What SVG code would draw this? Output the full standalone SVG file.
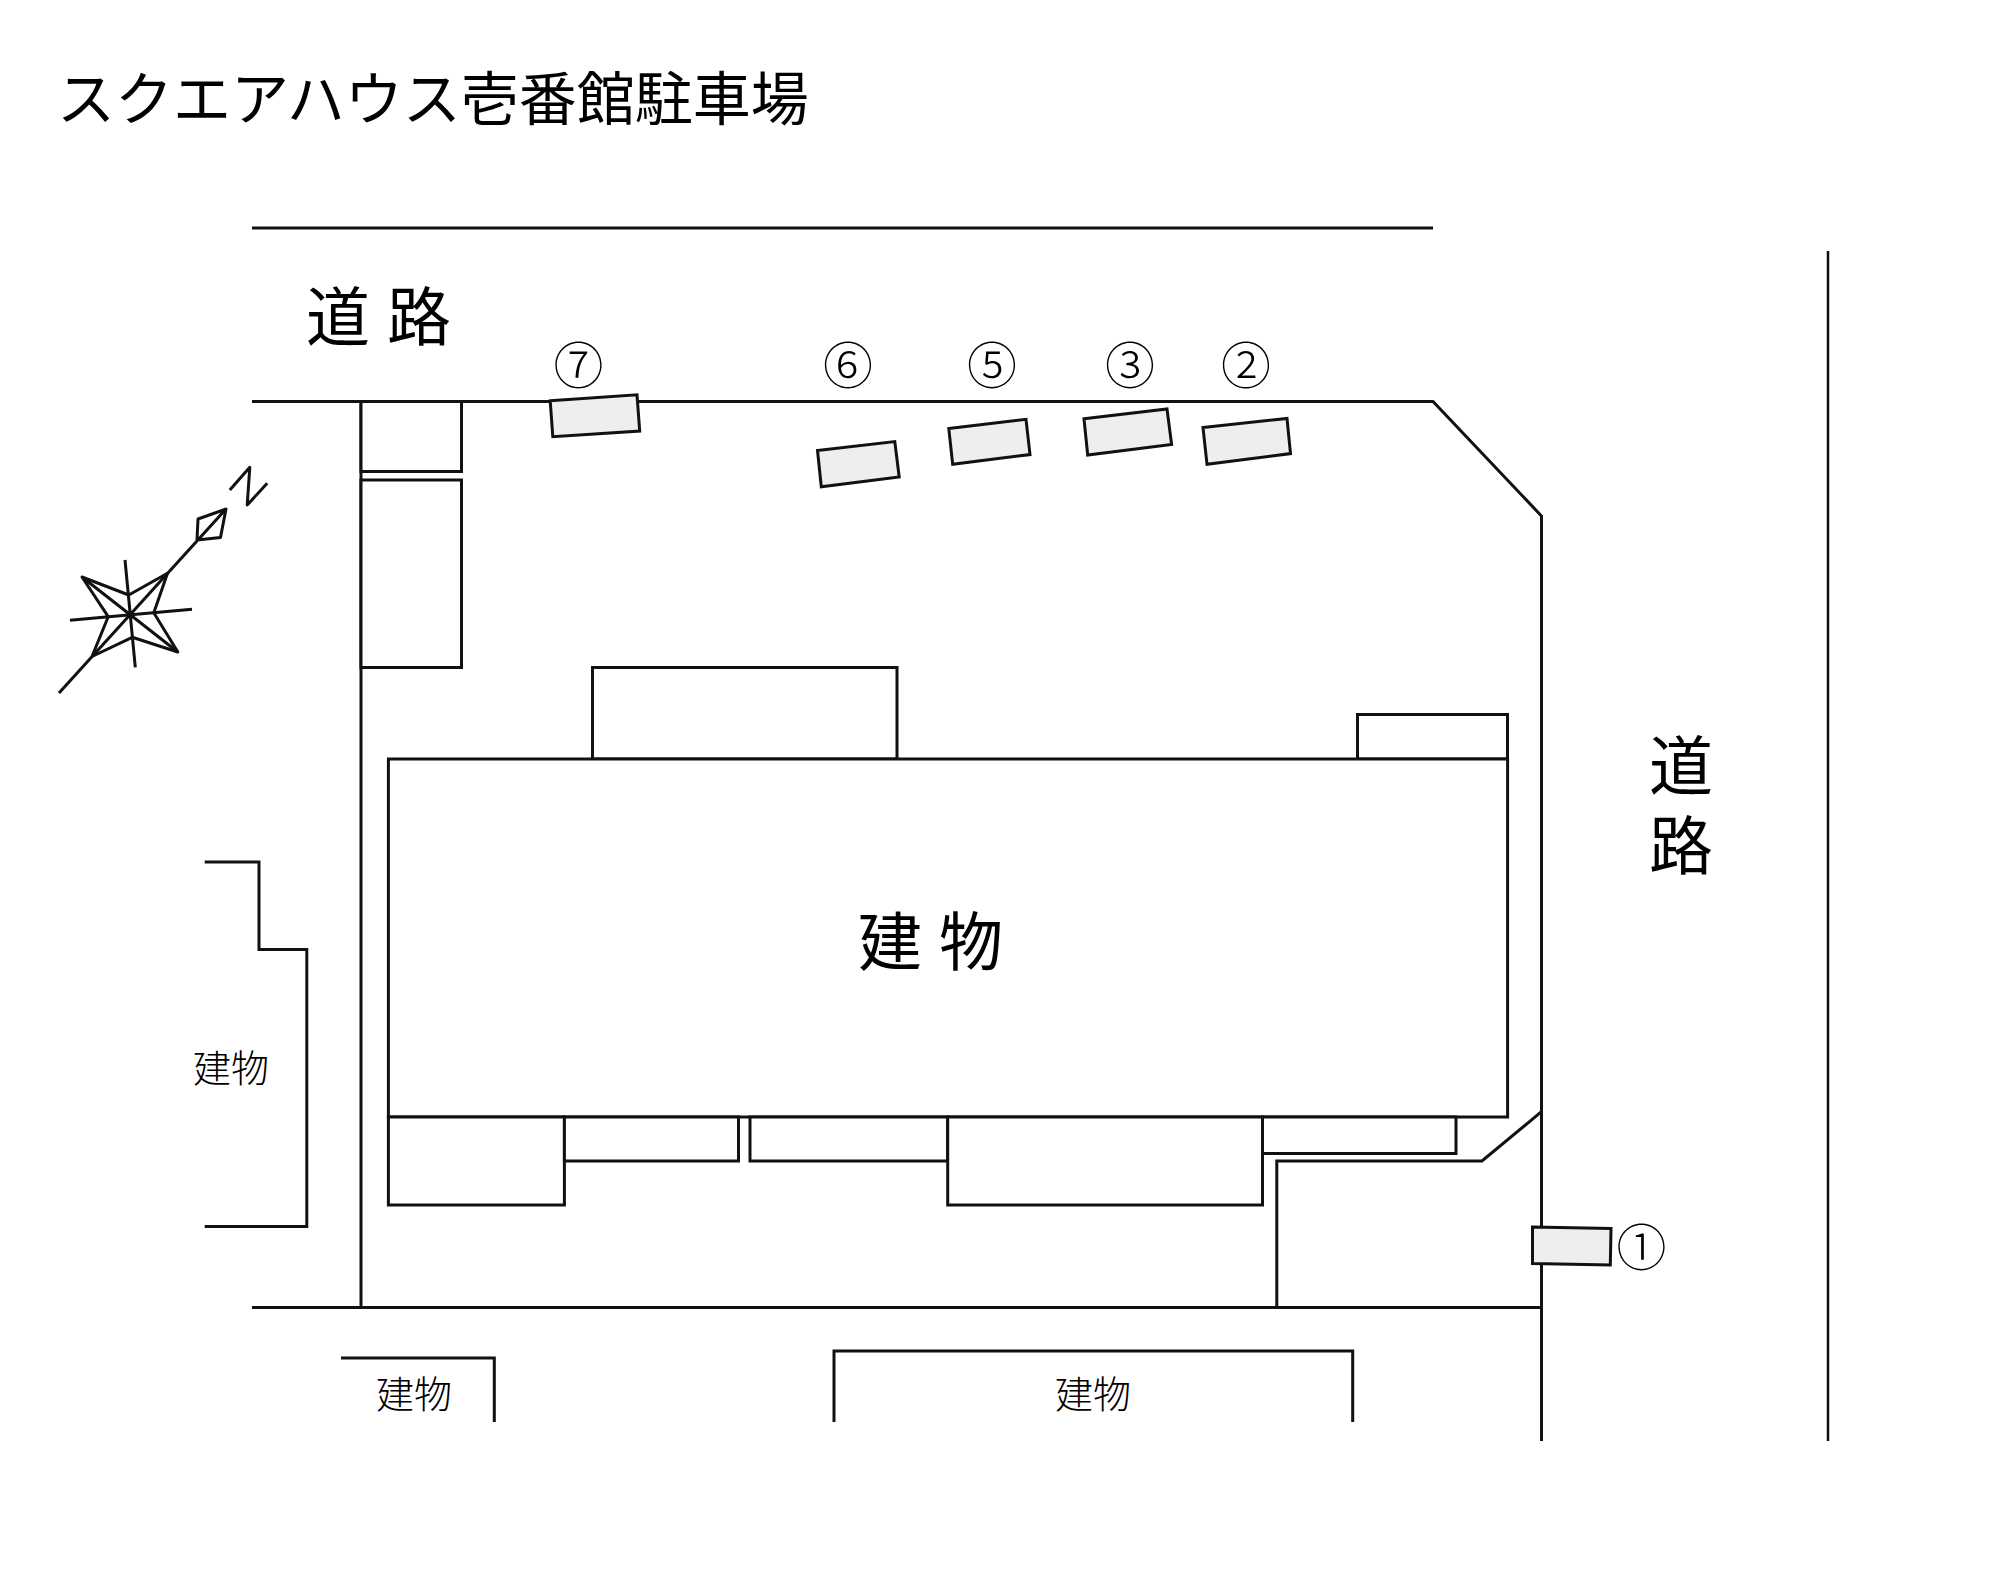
<svg xmlns="http://www.w3.org/2000/svg" width="2000" height="1576" viewBox="0 0 2000 1576">
<style>
.l{fill:none;stroke:#111;stroke-width:3;stroke-linejoin:miter}
.t{fill:none;stroke:#111;stroke-width:2.5}
.b{fill:#fff;stroke:#111;stroke-width:3}
.p{fill:#eee;stroke:#111;stroke-width:3}
.c{fill:none;stroke:#111;stroke-width:3;stroke-linecap:butt;stroke-linejoin:round}
text{font-family:"Noto Sans CJK JP","Noto Sans",sans-serif;fill:#000}
.n{font-size:50px;text-anchor:middle;font-weight:300}
.m{font-size:64px;font-weight:400}
.s{font-size:38px;font-weight:300}
</style>
<rect width="2000" height="1576" fill="#fff"/>
<text id="title" x="57" y="120" font-size="58" font-weight="400">スクエアハウス壱番館駐車場</text>
<g id="roads">
<path class="l" d="M252 228H1433"/>
<path class="l" d="M252 401.500H1433L1541.500 516V1441"/>
<path class="t" d="M1828 251V1441"/>
<path class="l" d="M252 1307.500H1541.500"/>
<path class="l" d="M361 401.500V1307.500"/>
<text class="m" x="306 387" y="340">道路</text>
<text class="m" writing-mode="vertical-rl" x="1681" y="733" letter-spacing="16">道路</text>
</g>
<g id="sheds">
<rect class="b" x="361" y="401.500" width="100.500" height="70"/>
<rect class="b" x="361" y="480" width="100.500" height="187.500"/>
</g>
<g id="building">
<rect class="b" x="592.500" y="667.500" width="304.500" height="91.500"/>
<rect class="b" x="1357.500" y="714.500" width="150" height="44.500"/>
<rect class="b" x="388.400" y="759" width="1119.200" height="358"/>
<rect class="b" x="388.400" y="1117" width="176" height="88"/>
<rect class="b" x="564.400" y="1117" width="174.100" height="44"/>
<rect class="b" x="750" y="1117" width="197.700" height="44"/>
<rect class="b" x="947.700" y="1117" width="314.800" height="88"/>
<rect class="b" x="1262.500" y="1117" width="193.500" height="36.500"/>
<text class="m" x="858 939" y="965">建物</text>
</g>
<path id="fence" class="l" d="M1276.800 1307.500V1161H1482L1541.500 1111.700"/>
<g id="neighbour-west">
<path class="l" d="M204.700 862H259V949.500H306.800V1226.500H204.700"/>
<text class="s" x="193" y="1082">建物</text>
</g>
<g id="neighbour-south-1">
<path class="l" d="M341 1358H494.300V1422"/>
<text class="s" x="376" y="1408">建物</text>
</g>
<g id="neighbour-south-2">
<path class="l" d="M834 1422V1351H1352.700V1422"/>
<text class="s" x="1055" y="1408">建物</text>
</g>
<g id="space-1"><polygon class="p" points="1532.500,1227 1611,1228.500 1610.300,1265 1532.500,1263.500"/><text class="n" x="1641.600" y="1265.500">①</text></g>
<g id="space-2"><polygon class="p" points="1203,427.600 1287,418.400 1290.500,453.600 1207,464.300"/><text class="n" x="1246" y="384">②</text></g>
<g id="space-3"><polygon class="p" points="1084,418.800 1167,409 1171.600,444.400 1087.700,455"/><text class="n" x="1130" y="384">③</text></g>
<g id="space-5"><polygon class="p" points="948.800,428.600 1026,419.300 1030,454.600 952.700,464.300"/><text class="n" x="992" y="384">⑤</text></g>
<g id="space-6"><polygon class="p" points="817.500,450.500 894.800,441.600 899.200,477 821.300,486.700"/><text class="n" x="848" y="384">⑥</text></g>
<g id="space-7"><polygon class="p" points="550.200,400.800 637,394.800 639.700,431 552.800,436.700"/><text class="n" x="578.400" y="384">⑦</text></g>
<g id="compass">
<path class="c" d="M59 693L226 509L198 519L197 540L220.500 537.500L226 509"/>
<path class="c" d="M125 560L135.300 667.300M70 620.300L192 609.300M82 577L177.800 652"/>
<path class="c" d="M167.500 573.300L153.800 612.700L177.800 652L132.200 637.300L92 656.500L108.200 616.700L82 577L128.800 595Z"/>
<path class="c" d="M229.800 490L249.800 467.300L247.200 505L267.200 483.300"/>
</g>
</svg>
